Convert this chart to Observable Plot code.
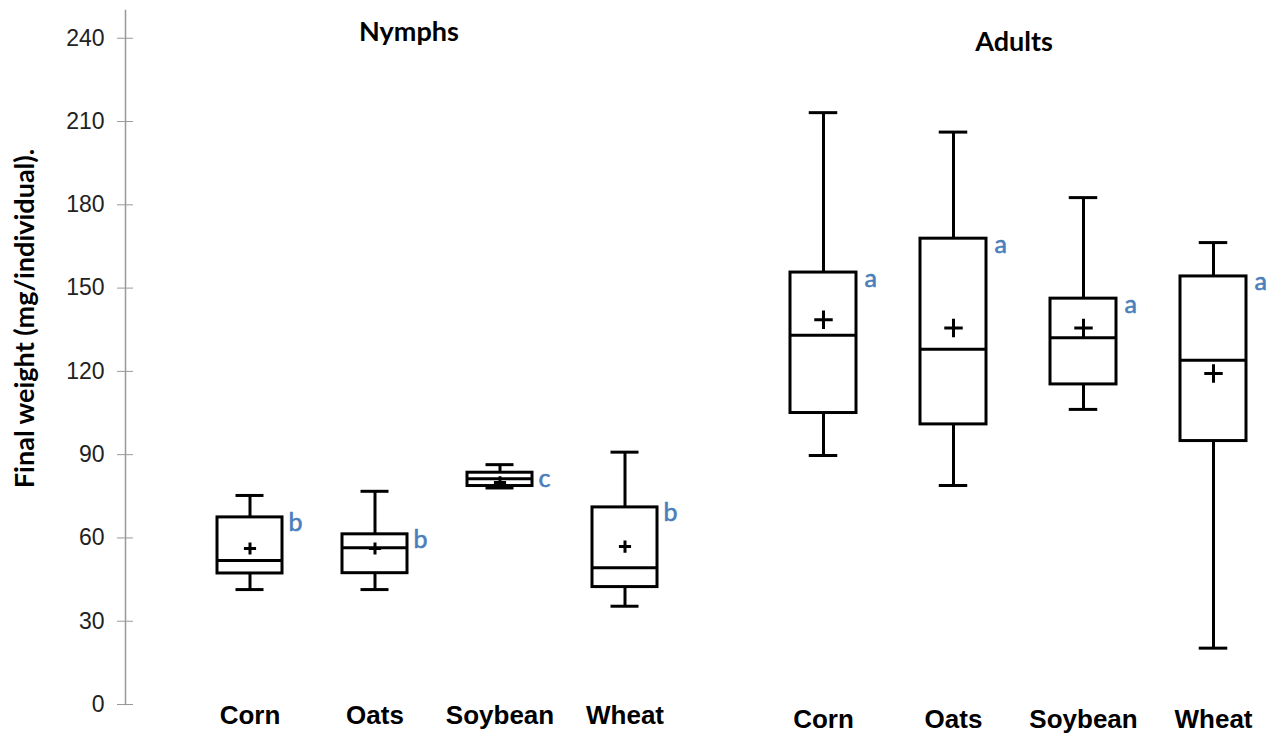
<!DOCTYPE html>
<html><head><meta charset="utf-8">
<script src="https://cdn.jsdelivr.net/npm/d3@7"></script>
<script src="https://cdn.jsdelivr.net/npm/@observablehq/plot@0.6"></script>
<style>
body{margin:0;background:#fff}
#chart{position:relative;width:1285px;height:733px}
#chart svg{position:absolute;left:0;top:0}
</style>
</head><body><div id="chart"></div>
<script>
const crops = ["Corn", "Oats", "Soybean", "Wheat"];
const groups = ["Nymphs", "Adults"];
const yTicks = [0, 30, 60, 90, 120, 150, 180, 210, 240];
const yLabel = "Final weight (mg/individual).";

// Nymphs
const nymphMin    = [41.4, 41.4, 78.0, 35.4];
const nymphQ1     = [47.2, 47.3, 78.7, 42.3];
const nymphMedian = [51.9, 56.5, 81.3, 49.3];
const nymphQ3     = [67.4, 61.3, 83.5, 71.0];
const nymphMax    = [75.3, 76.8, 86.4, 90.9];
const nymphMean   = [56.2, 56.2, 80.0, 56.9];
const nymphLetters = ["b", "b", "c", "b"];

// Adults
const adultMin    = [89.7, 78.9, 106.3, 20.3];
const adultQ1     = [105.0, 100.9, 115.3, 94.9];
const adultMedian = [133.0, 128.0, 132.1, 124.0];
const adultQ3     = [155.6, 167.8, 146.2, 154.2];
const adultMax    = [213.2, 206.2, 182.6, 166.4];
const adultMean   = [138.6, 135.6, 135.6, 119.2];
const adultLetters = ["a", "a", "a", "a"];

function rows(min, q1, med, q3, max, mean, letters) {
  return crops.map((crop, i) => ({crop, min: min[i], q1: q1[i], median: med[i], q3: q3[i], max: max[i], mean: mean[i], letter: letters[i]}));
}
const nymphs = rows(nymphMin, nymphQ1, nymphMedian, nymphQ3, nymphMax, nymphMean, nymphLetters);
const adults = rows(adultMin, adultQ1, adultMedian, adultQ3, adultMax, adultMean, adultLetters);

const calibri = "Lato, 'Open Sans', sans-serif";
const arial = "'Liberation Sans', Arial, sans-serif";

function boxMarks(data, {capInset, letterDx, plusR}) {
  return [
    Plot.ruleX(data, {x: "crop", y1: "q3", y2: "max", stroke: "black", strokeWidth: 3}),
    Plot.ruleX(data, {x: "crop", y1: "min", y2: "q1", stroke: "black", strokeWidth: 3}),
    Plot.tickY(data, {x: "crop", y: "max", stroke: "black", strokeWidth: 3, insetLeft: capInset, insetRight: capInset}),
    Plot.tickY(data, {x: "crop", y: "min", stroke: "black", strokeWidth: 3, insetLeft: capInset, insetRight: capInset}),
    Plot.barY(data, {x: "crop", y1: "q1", y2: "q3", fill: "white", stroke: "black", strokeWidth: 3}),
    Plot.tickY(data, {x: "crop", y: "median", stroke: "black", strokeWidth: 3}),
    Plot.dot(data, {x: "crop", y: "mean", symbol: "plus", r: plusR, stroke: "black", strokeWidth: 3}),
    Plot.text(data, {x: "crop", y: "q3", text: "letter", dx: letterDx, dy: 6, textAnchor: "start", fill: "#4a7ebb", stroke: "#4a7ebb", strokeWidth: 0.6, fontSize: 25, fontFamily: calibri})
  ];
}

const p1 = Plot.plot({
  width: 1285, height: 733,
  marginTop: 10, marginBottom: 29, marginLeft: 125, marginRight: 537,
  style: {background: "transparent", fontFamily: arial, color: "black"},
  x: {type: "band", domain: crops, paddingInner: 0.48, paddingOuter: 0.732},
  y: {domain: [0, 250]},
  marks: [
    Plot.frame({anchor: "left", stroke: "#999", strokeWidth: 1.5}),
    Plot.axisY(yTicks, {tickSize: 16, dx: 8, tickPadding: 13, stroke: "#999", fill: "#222", fontSize: 23, fontFamily: arial, label: null}),
    Plot.axisX({tickSize: 0, tickPadding: 1, fontSize: 26, fontWeight: "bold", fontFamily: arial, label: null}),
    Plot.text([groups[0]], {frameAnchor: "top", dx: -28, dy: 11, lineAnchor: "top", fontSize: 27, fontWeight: "bold", fontFamily: calibri}),
    Plot.text([yLabel], {frameAnchor: "left", textAnchor: "middle", rotate: -90, dx: -100, dy: -39, fontSize: 27, fontWeight: "bold", fontFamily: calibri}),
    ...boxMarks(nymphs, {capInset: 18.5, letterDx: 38.5, plusR: 4})
  ]
});

const p2 = Plot.plot({
  width: 1285, height: 733,
  marginTop: 10, marginBottom: 29, marginLeft: 753, marginRight: 1,
  style: {background: "transparent", fontFamily: arial, color: "black"},
  x: {type: "band", domain: crops, paddingInner: 0.49, paddingOuter: 0.28},
  y: {domain: [0, 250], axis: null},
  marks: [
    Plot.axisX({tickSize: 0, tickPadding: 5, fontSize: 26, fontWeight: "bold", fontFamily: arial, label: null}),
    Plot.text([groups[1]], {frameAnchor: "top", dx: -5, dy: 21, lineAnchor: "top", fontSize: 27, fontWeight: "bold", fontFamily: calibri}),
    ...boxMarks(adults, {capInset: 18.75, letterDx: 41, plusR: 6})
  ]
});

const chart = document.getElementById("chart");
chart.append(p1, p2);
</script>
</body></html>
